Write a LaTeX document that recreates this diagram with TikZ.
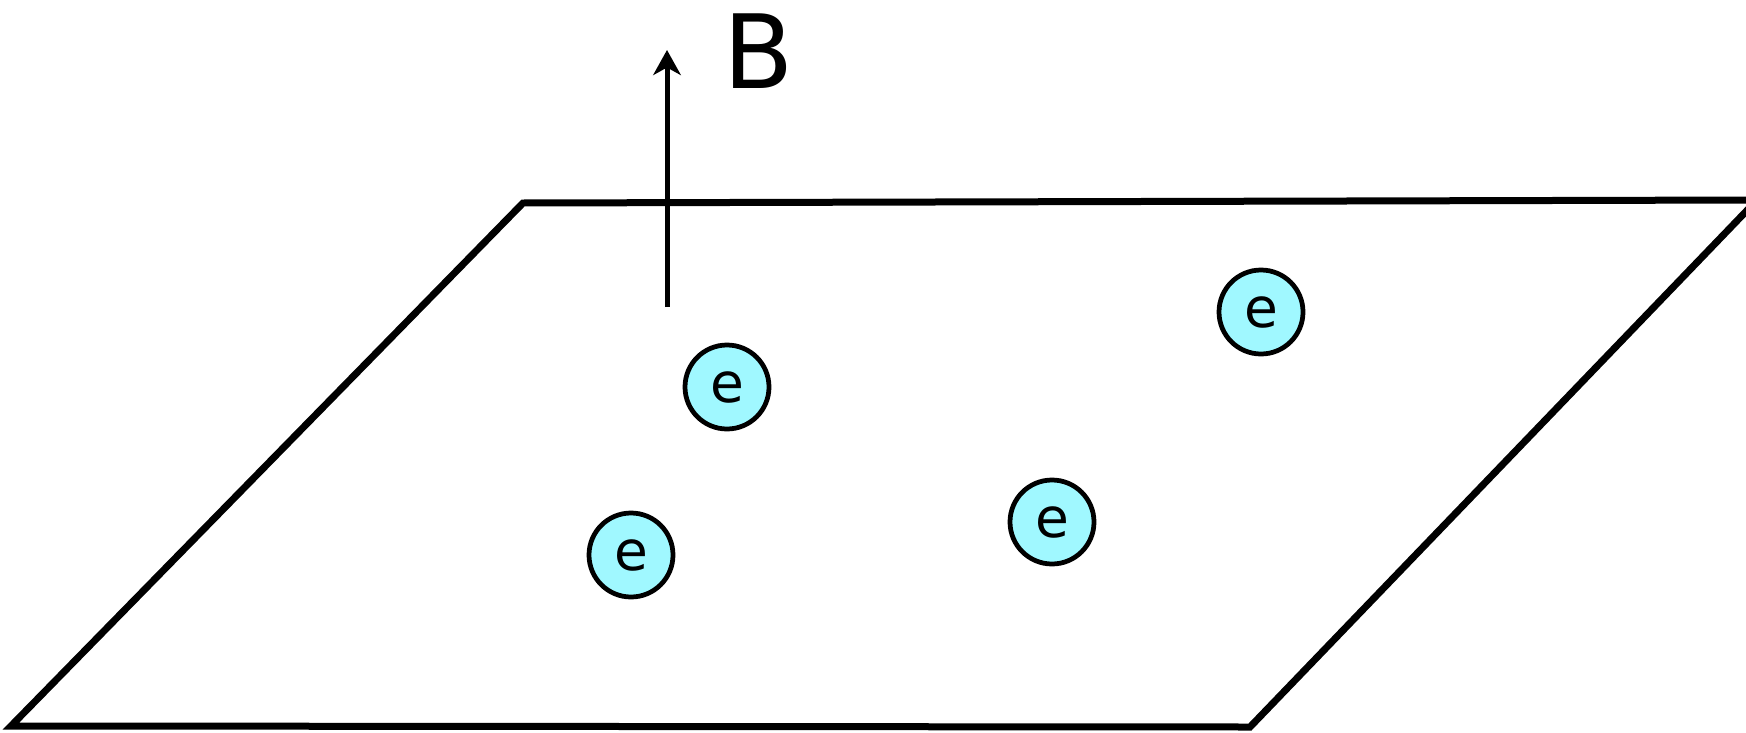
\documentclass[tikz,border=0pt]{standalone}
\usepackage{fontspec}
\setmainfont{DejaVu Sans}
\usetikzlibrary{arrows.meta}
\definecolor{elec}{HTML}{A0F8FF}
\tikzset{
  electron/.style={circle, draw=black, line width=1.9pt, fill=elec, minimum size=33.6pt, inner sep=0pt, font=\fontsize{22}{22}\selectfont},
  plane/.style={line width=2.8pt, line join=miter},
  field/.style={line width=2pt, -{Stealth[length=10pt, width=11pt, inset=3pt]}},
}
\begin{document}
\begin{tikzpicture}[x=0.4pt, y=-0.4pt]
\useasboundingbox (0,0) rectangle (1746,733);
\begin{scope}
\clip (0,0) rectangle (1746,733);
\coordinate (p1) at (11,726);
\coordinate (p2) at (523,203);
\coordinate (p3) at (1757,200);
\coordinate (p4) at (1250,727);
\draw[plane] (p1) -- (p2) -- (p3) -- (p4) -- cycle;
\end{scope}
\coordinate (a0) at (667,307);
\coordinate (a1) at (667,50);
\draw[field] (a0) -- (a1);
\node[font=\fontsize{41}{41}\selectfont, anchor=base] (B) at (759,88) {B};
\node[electron] (e1) at (727,387) {e};
\node[electron] (e2) at (1261,312) {e};
\node[electron] (e3) at (1052,522) {e};
\node[electron] (e4) at (631,555) {e};
\end{tikzpicture}
\end{document}
